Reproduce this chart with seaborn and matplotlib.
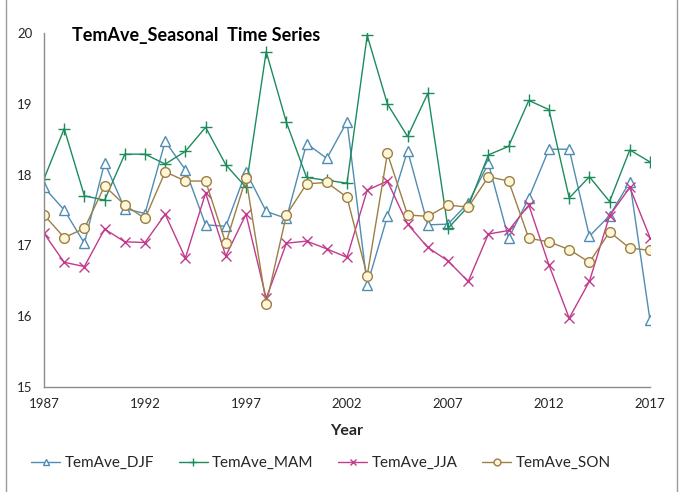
import matplotlib
matplotlib.use("Agg")
import matplotlib.pyplot as plt
from matplotlib.lines import Line2D
import seaborn as sns
import pandas as pd

years = list(range(1987, 2018))

djf = [17.82, 17.50, 17.03, 18.17, 17.52, 17.45, 18.47, 18.07, 17.29, 17.27,
       18.04, 17.48, 17.38, 18.44, 18.23, 18.75, 16.44, 17.41, 18.34, 17.29,
       17.30, 17.60, 18.16, 17.10, 17.67, 18.36, 18.36, 17.13, 17.42, 17.90,
       15.94]
mam = [17.94, 18.65, 17.70, 17.64, 18.29, 18.29, 18.15, 18.33, 18.67, 18.14,
       17.82, 19.74, 18.74, 17.96, 17.92, 17.88, 19.97, 19.00, 18.54, 19.15,
       17.24, 17.55, 18.28, 18.40, 19.05, 18.92, 17.67, 17.97, 17.62, 18.35,
       18.18]
jja = [17.17, 16.76, 16.70, 17.23, 17.05, 17.04, 17.44, 16.82, 17.74, 16.85,
       17.44, 16.25, 17.03, 17.06, 16.95, 16.83, 17.78, 17.91, 17.30, 16.97,
       16.78, 16.49, 17.16, 17.21, 17.57, 16.72, 15.97, 16.49, 17.42, 17.82,
       17.11]
son = [17.43, 17.11, 17.24, 17.84, 17.57, 17.38, 18.04, 17.91, 17.91, 17.03,
       17.95, 16.17, 17.43, 17.87, 17.89, 17.68, 16.57, 18.30, 17.43, 17.41,
       17.57, 17.54, 17.97, 17.91, 17.10, 17.05, 16.94, 16.76, 17.19, 16.96,
       16.93]

series_names = ["TemAve_DJF", "TemAve_MAM", "TemAve_JJA", "TemAve_SON"]
x_ticks = [1987, 1992, 1997, 2002, 2007, 2012, 2017]
y_ticks = [15, 16, 17, 18, 19, 20]

df = pd.DataFrame({"Year": years, "TemAve_DJF": djf, "TemAve_MAM": mam,
                   "TemAve_JJA": jja, "TemAve_SON": son})
long_df = df.melt(id_vars="Year", var_name="Season", value_name="Temp")

styles = {
    "TemAve_DJF": dict(color="#4f8db3", marker="^", markersize=7,
                       markerfacecolor="white", markeredgecolor="#4f8db3"),
    "TemAve_MAM": dict(color="#1c8c5c", marker="+", markersize=9,
                       markerfacecolor="#1c8c5c", markeredgecolor="#1c8c5c"),
    "TemAve_JJA": dict(color="#c23a8c", marker="x", markersize=7,
                       markerfacecolor="#c23a8c", markeredgecolor="#c23a8c"),
    "TemAve_SON": dict(color="#9c7f45", marker="o", markersize=7,
                       markerfacecolor="#fff6d8", markeredgecolor="#9c7f45"),
}

sns.set_theme(style="white")
plt.rcParams["font.family"] = ["Lato", "DejaVu Sans"]

fig = plt.figure(figsize=(6.8, 4.92), dpi=100)
ax = fig.add_axes([44 / 680, 1 - 386.7 / 492, 606 / 680, 353.4 / 492])

for name in series_names:
    st = styles[name]
    sns.lineplot(data=long_df[long_df["Season"] == name], x="Year", y="Temp",
                 ax=ax, color=st["color"], marker=st["marker"],
                 markersize=st["markersize"],
                 markerfacecolor=st["markerfacecolor"],
                 markeredgecolor=st["markeredgecolor"],
                 markeredgewidth=1.0, linewidth=1.0, label=name, legend=False)

ax.set_xlim(1987, 2017)
ax.set_ylim(15, 20)
ax.set_xticks(x_ticks)
ax.set_xticklabels([str(t) for t in x_ticks])
ax.set_yticks(y_ticks)
ax.set_yticklabels([str(t) for t in y_ticks])
ax.set_xlabel("")
ax.set_ylabel("")

for side in ["top", "right"]:
    ax.spines[side].set_visible(False)
for side in ["left", "bottom"]:
    ax.spines[side].set_color("#8c8c8c")
    ax.spines[side].set_linewidth(1.0)

ax.tick_params(axis="both", direction="inout", length=6.5, width=1.0,
               color="#8c8c8c", labelsize=9.5, labelcolor="#262626")
ax.tick_params(axis="x", pad=5)
ax.tick_params(axis="y", pad=5)
ax.set_facecolor("white")
ax.patch.set_alpha(0)

fig.text(72 / 680, 1 - 36 / 492, "TemAve_Seasonal  Time Series",
         fontsize=13, fontweight="bold", color="black", ha="left", va="center")
fig.text(347 / 680, 1 - 431 / 492, "Year", fontsize=11.5, fontweight="bold",
         color="#262626", ha="center", va="center")

handles = [Line2D([], [], color=styles[n]["color"], marker=styles[n]["marker"],
                  markersize=styles[n]["markersize"] * 0.7,
                  markerfacecolor=styles[n]["markerfacecolor"],
                  markeredgecolor=styles[n]["markeredgecolor"],
                  linewidth=1.0) for n in series_names]
fig.legend(handles, series_names, loc="center", ncol=4, frameon=False,
           bbox_to_anchor=(321 / 680, 1 - 463 / 492), fontsize=11,
           handlelength=1.9, columnspacing=1.6, handletextpad=0.3,
           labelcolor="#262626")

# chart frame edges
for xf in (6 / 680, 677 / 680):
    fig.add_artist(Line2D([xf, xf], [0, 1], transform=fig.transFigure,
                          color="#9a9a9a", linewidth=1.0))

fig.savefig("out.png", dpi=100)
